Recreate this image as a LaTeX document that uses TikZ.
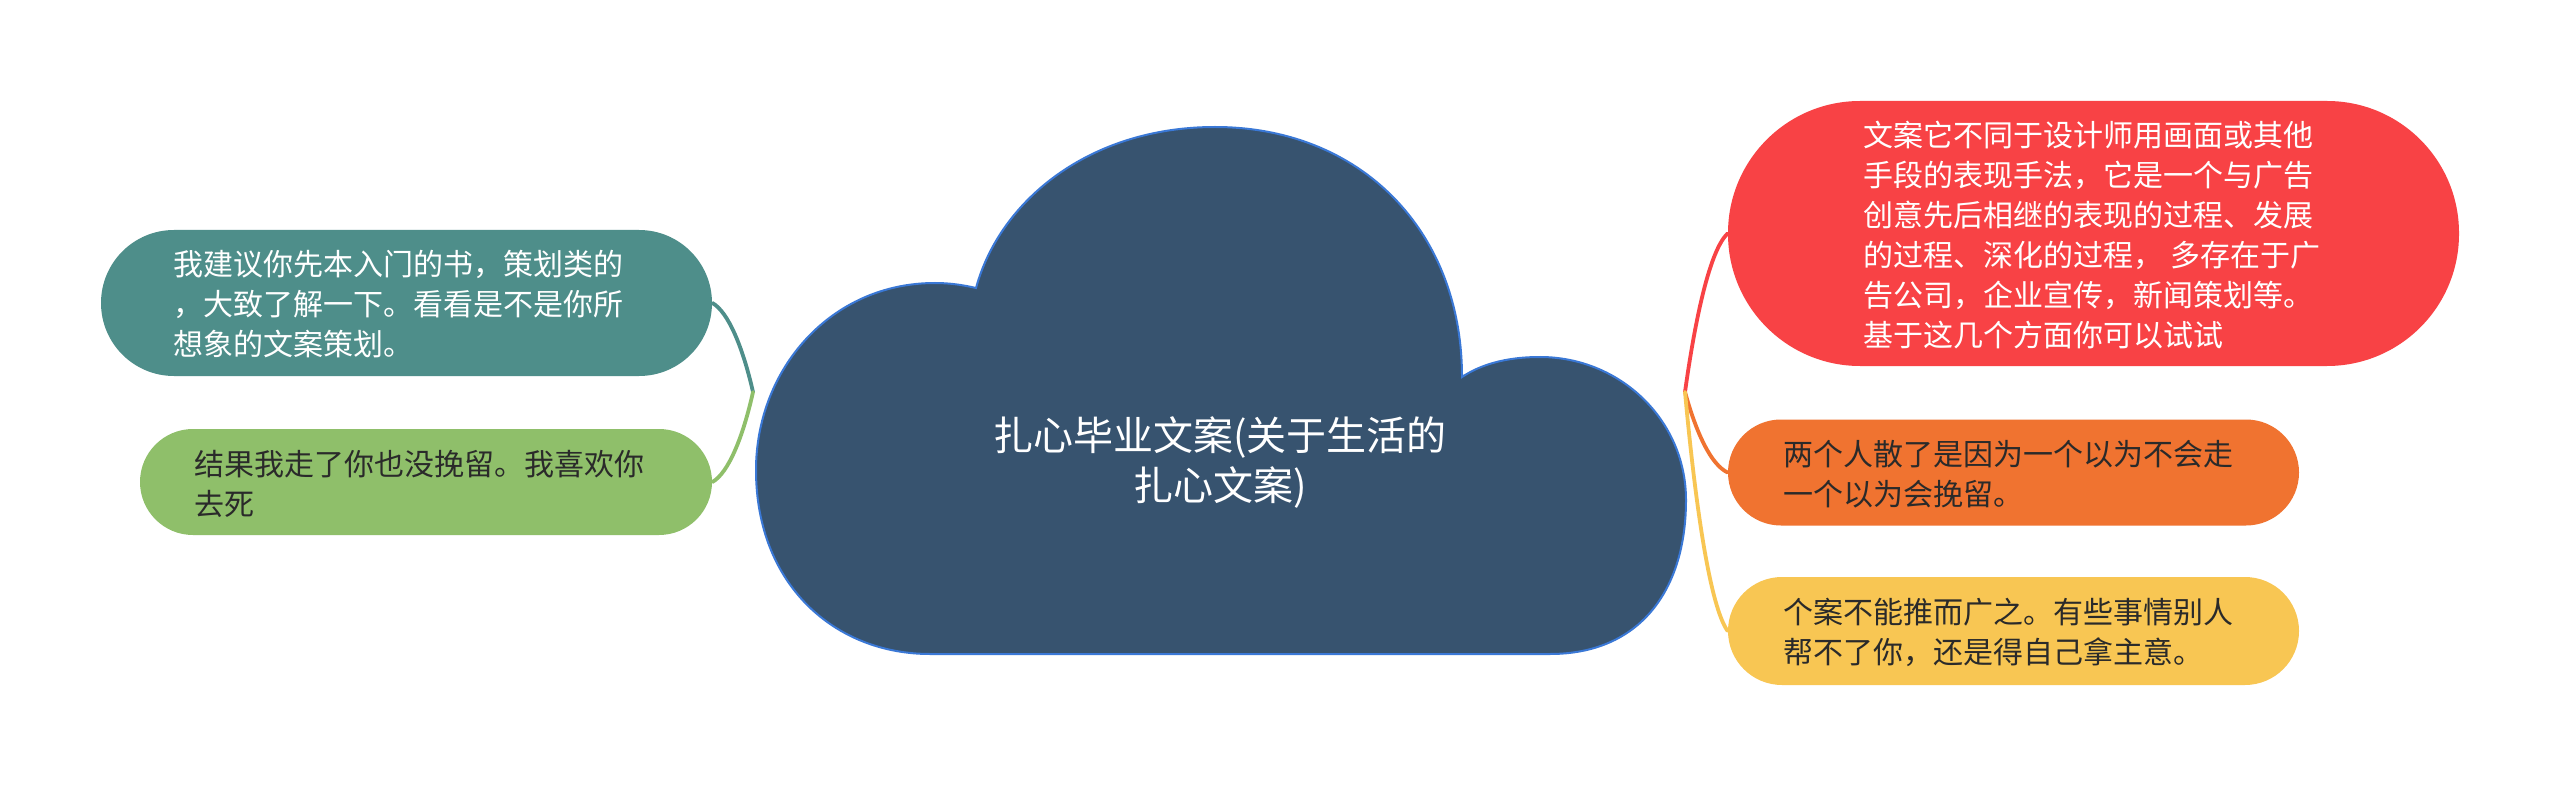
\documentclass[tikz,border=0pt]{standalone}
\usepackage{fontspec}
\newfontfamily\cjk{Noto Sans CJK SC}
\definecolor{cloudfill}{HTML}{37536F}
\definecolor{cloudline}{HTML}{3A78D6}
\definecolor{tealc}{HTML}{4E8E8A}
\definecolor{greenc}{HTML}{8FBF6A}
\definecolor{redc}{HTML}{F84245}
\definecolor{orangec}{HTML}{F07330}
\definecolor{yellowc}{HTML}{F8C653}
\definecolor{darktext}{HTML}{2A2A2A}
\begin{document}
\begin{tikzpicture}[x=0.5pt,y=-0.5pt,
  pill/.style={draw=none, inner sep=0pt},
  txt/.style={inner sep=0pt, align=left, anchor=west, font=\cjk\fontsize{15}{20}\selectfont},
  conn/.style={line width=1.9pt, line cap=round}]
\fill[white] (0,0) rectangle (2560,786);
\useasboundingbox (0,0) rectangle (2560,786);

% cloud
\draw[fill=cloudfill, draw=cloudline, line width=1pt]
  (930,654) -- (1550,654)
  .. controls (1640,654) and (1686,590) .. (1686,500)
  .. controls (1686,420) and (1620,357) .. (1540,357)
  .. controls (1505,357) and (1480,365) .. (1462,377)
  .. controls (1462,230) and (1360,127) .. (1215,127)
  .. controls (1090,127) and (1000,200) .. (976,288)
  .. controls (963,285) and (950,283) .. (935,283)
  .. controls (830,283) and (756,370) .. (756,470)
  .. controls (756,585) and (835,654) .. (930,654) -- cycle;
\node[inner sep=0pt, align=center, text=white, font=\cjk\fontsize{20}{25}\selectfont] (root) at (1220,462)
  {扎心毕业文案(关于生活的\\扎心文案)};

\coordinate (jl) at (753,392);
\coordinate (jr) at (1685,392);

% left nodes
\node[pill, fill=tealc, minimum width=305.5pt, minimum height=73pt, rounded corners=36.5pt] (n1) at (406.5,303) {};
\node[txt, text=white] (t1) at (173,304)
  {我建议你先本入门的书，策划类的\\，大致了解一下。看看是不是你所\\想象的文案策划。};
\node[pill, fill=greenc, minimum width=286pt, minimum height=53pt, rounded corners=26.5pt] (n2) at (426,482) {};
\node[txt, text=darktext] (t2) at (194,484)
  {结果我走了你也没挽留。我喜欢你\\去死};

% right nodes
\node[pill, fill=redc, minimum width=365.5pt, minimum height=132.5pt, rounded corners=66pt] (r1) at (2093.5,233.5) {};
\node[txt, text=white] (t3) at (1863,235)
  {文案它不同于设计师用画面或其他\\手段的表现手法，它是一个与广告\\创意先后相继的表现的过程、发展\\的过程、深化的过程， 多存在于广\\告公司，企业宣传，新闻策划等。\\基于这几个方面你可以试试};
\node[pill, fill=orangec, minimum width=285.5pt, minimum height=53pt, rounded corners=26.5pt] (r2) at (2013.5,472.5) {};
\node[txt, text=darktext] (t4) at (1783,474)
  {两个人散了是因为一个以为不会走\\一个以为会挽留。};
\node[pill, fill=yellowc, minimum width=285.5pt, minimum height=54pt, rounded corners=27pt] (r3) at (2013.5,631) {};
\node[txt, text=darktext] (t5) at (1783,632)
  {个案不能推而广之。有些事情别人\\帮不了你，还是得自己拿主意。};

% connectors
\draw[conn, draw=tealc] (jl) .. controls +(-10,-44) and +(16,9) .. (n1.east);
\draw[conn, draw=greenc] (jl) .. controls +(-10,45) and +(16,-9) .. (n2.east);
\draw[conn, draw=redc] (jr) .. controls +(11,-79) and +(-17,16) .. (r1.west);
\draw[conn, draw=orangec] (jr) .. controls +(11,40) and +(-17,-8) .. (r2.west);
\draw[conn, draw=yellowc] (jr) .. controls +(11,120) and +(-17,-24) .. (r3.west);
\end{tikzpicture}
\end{document}
